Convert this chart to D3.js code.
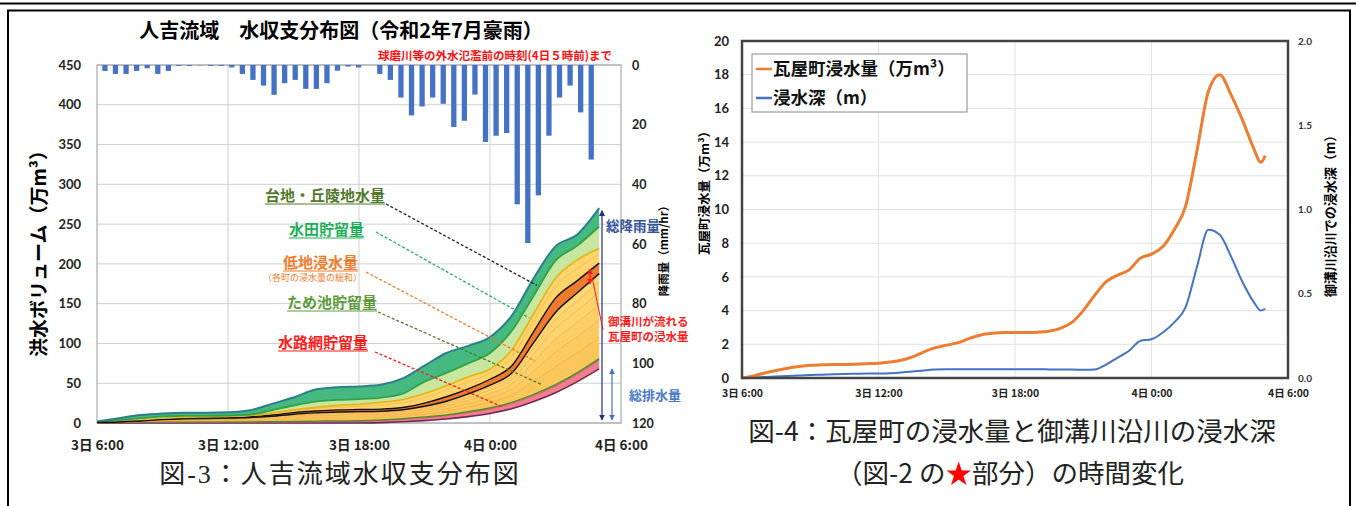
<!DOCTYPE html>
<html>
<head>
<meta charset="utf-8">
<script src="https://cdn.jsdelivr.net/npm/d3@7"></script>
<style>
body { margin: 0; background: #fff; }
text { font-family: "Noto Sans CJK JP", sans-serif; }
.num text, text.num { font-family: Lato, "Noto Sans", sans-serif; font-weight: 700; }
</style>
</head>
<body>
<div id="my_dataviz"></div>
<script>
// ---- data: left chart (hourly, hours after 3日 6:00) ----
var hours = [0,1,2,3,4,5,6,7,8,9,10,11,12,13,14,15,16,17,18,19,20,21,22,23];
var drainage = [0,0,0,0,0,0,0,0,0,0,0,0,0,0.5,1.5,3,5,8,12,18,27,38,52,68];
var channel  = [0.3,0.6,1,1,1,1,1,1,1.2,1.4,1.6,1.8,2,2.5,3,3.5,4,5,5.5,6.5,7.5,8.5,9.5,11];
var pond     = [0.2,0.3,0.4,0.5,0.5,0.5,0.5,0.5,0.6,0.7,0.8,0.9,1,1,1.1,1.2,1.3,1.4,1.5,1.6,1.7,1.8,1.9,2];
var town1 = [0,0.1,0.3,0.7,0.9,1,1.2,1.4,1.7,2.2,2.6,2.8,2.8,2.7,2.8,3.3,4.2,5.5,7.2,9.2,16,22.7,25,26.7];
var town2 = [0,0.1,0.2,0.55,0.75,0.85,0.9,1.1,1.3,1.8,2,2.2,2.3,2.2,2.2,2.7,3.4,4.4,5.7,7.3,13,18,20,21.4];
var town3 = [0,0.05,0.2,0.5,0.65,0.75,0.85,1,1.2,1.6,1.9,2,2,1.9,2,2.4,3.1,4,5.2,6.6,11.7,16.3,18,19.2];
var town4 = [0,0.05,0.15,0.4,0.55,0.65,0.7,0.8,1,1.35,1.5,1.7,1.7,1.6,1.7,2,2.5,3.3,4.3,5.5,9.7,13.6,15,16];
var town5 = [0,0,0.1,0.35,0.45,0.5,0.55,0.7,0.8,1.1,1.2,1.35,1.4,1.3,1.3,1.6,2,2.65,3.4,4.4,7.8,10.9,12,12.8];
var town6 = [0,0,0.1,0.25,0.4,0.45,0.45,0.5,0.7,0.9,1.1,1.1,1.1,1.1,1.05,1.3,1.8,2.3,2.85,3.7,6.6,9.2,10.3,10.7];
var kawaraya = [0,0.3,0.55,0.75,0.8,0.8,0.85,1,1.5,1.95,2.3,2.65,2.7,2.7,2.85,4,5.7,6.45,7.35,9.2,14,18,15.3,13.2];
var town7 = [0,0.1,0.3,0.5,0.6,0.6,0.7,0.9,1.5,2.1,2.7,3.3,3.9,5,6,7.2,8.4,9,7.8,12,13.2,15,15.6,11];
var town8 = [0,0.1,0.2,0.3,0.4,0.4,0.5,0.6,1,1.4,1.8,2.2,2.6,3.5,4,4.8,5.6,6,5.2,8,8.8,10,10.4,7.5];
var paddy  = [1,2,2.5,2.5,2,1.5,1.2,1,3.5,5.5,7.5,7,6.5,6,7.5,15,16,17,20,24,23,22,18,27.5];
var upland = [0.5,2.3,4,3.7,4,4,4.1,5.5,8,10,15,16,16,16,19,20,25,22,20,19,22,18,14,23];

// rainfall (mm/hr), half-hourly bars
var rain = [2,3,3,2,1.1,3,2,0.3,0.3,0.1,0.3,0.3,0.8,3,5,6.9,10,6.1,5,8,8,6.1,1.9,0.5,0.8,0,3,5,10.9,16.9,13.9,10.9,13,20.8,18.7,9.9,25.8,23.7,22.8,46.7,59.7,43.7,23.7,10.9,6.9,15.9,31.7];

var xTickHours = [0,6,12,18,24];
var xTickLabels = ["3日 6:00","3日 12:00","3日 18:00","4日 0:00","4日 6:00"];
var volTicks = [0,50,100,150,200,250,300,350,400,450];
var rainTicks = [0,20,40,60,80,100,120];

// ---- data: right chart (half-hourly) ----
var halfHours = [0,0.5,1,1.5,2,2.5,3,3.5,4,4.5,5,5.5,6,6.5,7,7.5,8,8.5,9,9.5,10,10.5,11,11.5,12,12.5,13,13.5,14,14.5,15,15.5,16,16.5,17,17.5,18,18.5,19,19.5,20,20.5,21,21.5,22,22.5,22.8,23];
var floodVolume = [0,0.12,0.3,0.45,0.58,0.68,0.75,0.78,0.8,0.8,0.82,0.85,0.88,0.95,1.05,1.25,1.55,1.8,1.95,2.1,2.35,2.55,2.65,2.7,2.7,2.7,2.72,2.78,2.95,3.3,4.0,4.9,5.7,6.1,6.4,7.1,7.35,7.8,8.8,10.2,13.5,17.0,18.0,16.8,15.3,13.6,12.8,13.2];
var floodDepth = [0,0.003,0.006,0.009,0.012,0.015,0.018,0.02,0.022,0.024,0.025,0.026,0.026,0.028,0.032,0.038,0.045,0.05,0.052,0.052,0.052,0.052,0.052,0.052,0.052,0.052,0.052,0.051,0.05,0.05,0.049,0.05,0.08,0.12,0.16,0.22,0.23,0.27,0.33,0.42,0.66,0.88,0.85,0.72,0.57,0.45,0.4,0.41];
var volTicksR = [0,2,4,6,8,10,12,14,16,18,20];
var depthTicks = [0,0.5,1,1.5,2];

var svg = d3.select("#my_dataviz")
    .append("svg")
    .attr("width", 1356)
    .attr("height", 506);

// page frame
svg.append("line").attr("x1", 0).attr("x2", 1356).attr("y1", 3.5).attr("y2", 3.5)
    .attr("stroke", "#000").attr("stroke-width", 2);
svg.append("rect").attr("x", 8).attr("y", 10.5).attr("width", 1342).attr("height", 520)
    .attr("fill", "none").attr("stroke", "#000").attr("stroke-width", 2);

// ================= LEFT CHART =================
var x = d3.scaleLinear().domain([0, 24]).range([97, 621]);
var y = d3.scaleLinear().domain([0, 450]).range([423, 65]);
var yRain = d3.scaleLinear().domain([0, 120]).range([65, 423]);

var left = svg.append("g");

// grid
left.append("g").selectAll("line").data(volTicks).enter().append("line")
    .attr("x1", x(0)).attr("x2", x(24))
    .attr("y1", function (d) { return y(d); }).attr("y2", function (d) { return y(d); })
    .attr("stroke", "#cfcfcf");
left.append("g").selectAll("line").data([6, 12, 18]).enter().append("line")
    .attr("x1", function (d) { return x(d); }).attr("x2", function (d) { return x(d); })
    .attr("y1", y(0)).attr("y2", y(450))
    .attr("stroke", "#cfcfcf");
left.append("rect").attr("x", x(0)).attr("y", y(450))
    .attr("width", x(24) - x(0)).attr("height", y(0) - y(450))
    .attr("fill", "none").attr("stroke", "#9a9a9a");

// rain bars, hung from the top
var band = d3.scaleBand().domain(d3.range(rain.length)).range([x(0), x(23)]).padding(0.5);
left.append("g").selectAll("rect").data(rain).enter().append("rect")
    .attr("x", function (d, i) { return band(i); })
    .attr("y", yRain(0))
    .attr("width", band.bandwidth())
    .attr("height", function (d) { return yRain(d) - yRain(0); })
    .attr("fill", "#4472c4");

// stacked water balance
var keys = ["drainage","channel","pond","town1","town2","town3","town4","town5","town6","kawaraya","town7","town8","paddy","upland"];
var series = {drainage: drainage, channel: channel, pond: pond, town1: town1, town2: town2, town3: town3,
    town4: town4, town5: town5, town6: town6, kawaraya: kawaraya, town7: town7, town8: town8, paddy: paddy, upland: upland};
var rows = hours.map(function (h, i) {
    var r = { h: h };
    keys.forEach(function (k) { r[k] = series[k][i]; });
    return r;
});
var stacked = d3.stack().keys(keys)(rows);

var fills = {drainage: "none", channel: "#f27d8b", pond: "#5aa845", town1: "#fcc75a", town2: "#fccb60", town3: "#fccf66",
    town4: "#fcd36c", town5: "#fcd571", town6: "#fdd876", kawaraya: "#ee7a2e", town7: "#fdd36a", town8: "#fdd66e",
    paddy: "#c7e6a0", upland: "#45b97f"};
var strokes = {drainage: "#6e2b57", channel: "#e8556c", pond: "#3f8f32", town1: "#f2a63a", town2: "#f2a63a", town3: "#f2a63a",
    town4: "#f2a63a", town5: "#f2a63a", town6: "#f2a63a", kawaraya: "#111", town7: "#f2b23c", town8: "#e9b51f",
    paddy: "#33a148", upland: "#2b7f8c"};
var widths = {drainage: 1.6, channel: 1, pond: 1.2, town1: 0.7, town2: 0.7, town3: 0.7, town4: 0.7, town5: 0.7, town6: 0.7,
    kawaraya: 1.4, town7: 0.7, town8: 1.8, paddy: 1.8, upland: 2};

var area = d3.area().curve(d3.curveMonotoneX)
    .x(function (d) { return x(d.data.h); })
    .y0(function (d) { return y(d[0]); })
    .y1(function (d) { return y(d[1]); });
var topLine = d3.line().curve(d3.curveMonotoneX)
    .x(function (d) { return x(d.data.h); })
    .y(function (d) { return y(d[1]); });
var botLine = d3.line().curve(d3.curveMonotoneX)
    .x(function (d) { return x(d.data.h); })
    .y(function (d) { return y(d[0]); });

left.append("g").selectAll("path").data(stacked).enter().append("path")
    .attr("d", area)
    .attr("fill", function (d) { return fills[d.key]; });
left.append("g").selectAll("path").data(stacked).enter().append("path")
    .attr("d", topLine)
    .attr("fill", "none")
    .attr("stroke", function (d) { return strokes[d.key]; })
    .attr("stroke-width", function (d) { return widths[d.key]; });
// outline under the Kawaraya band
left.append("path").datum(stacked[keys.indexOf("kawaraya")])
    .attr("d", botLine).attr("fill", "none").attr("stroke", "#111").attr("stroke-width", 1.4);

// axes
left.append("g").attr("class", "num")
    .attr("transform", "translate(" + x(0) + ",0)")
    .call(d3.axisLeft(y).tickValues(volTicks).tickSize(0).tickPadding(16))
    .call(function (g) { g.select(".domain").remove(); })
    .selectAll("text").style("font-size", "13px").attr("fill", "#222");
left.append("g").attr("class", "num")
    .attr("transform", "translate(" + x(24) + ",0)")
    .call(d3.axisRight(yRain).tickValues(rainTicks).tickSize(0).tickPadding(11))
    .call(function (g) { g.select(".domain").remove(); })
    .selectAll("text").style("font-size", "12.5px").attr("fill", "#222");
left.append("g").attr("class", "num")
    .attr("transform", "translate(0," + y(0) + ")")
    .call(d3.axisBottom(x).tickValues(xTickHours).tickSize(0).tickPadding(17)
        .tickFormat(function (d, i) { return xTickLabels[i]; }))
    .call(function (g) { g.select(".domain").remove(); })
    .selectAll("text").style("font-size", "13.5px").attr("fill", "#222")
    .style("font-family", "'Noto Sans CJK JP', sans-serif");

// titles
left.append("text").attr("x", 341).attr("y", 38).attr("text-anchor", "middle")
    .style("font-size", "20px").style("font-weight", 700).text("人吉流域　水収支分布図（令和2年7月豪雨）");
left.append("text").attr("x", 378).attr("y", 60)
    .style("font-size", "11.5px").style("font-weight", 700).attr("fill", "#ff1010")
    .text("球磨川等の外水氾濫前の時刻(4日５時前)まで");
left.append("text").attr("transform", "translate(46,249) rotate(-90)").attr("text-anchor", "middle")
    .style("font-size", "19px").style("font-weight", 700).text("洪水ボリューム（万m³）");
left.append("text").attr("transform", "translate(668,248) rotate(-90)").attr("text-anchor", "middle")
    .style("font-size", "11.5px").style("font-weight", 700).text("降雨量（mm/hr）");

// layer labels with dashed leaders (end points in data units)
var labels = [
    { text: "台地・丘陵地水量", x: 265, y: 201, color: "#4f7a2b", lead: "#222", from: [386, 204], to: [20.15, 173] },
    { text: "水田貯留量", x: 289, y: 235, color: "#1db058", lead: "#22b35a", from: [376, 232], to: [19.8, 132] },
    { text: "低地浸水量", x: 283, y: 268, color: "#f07b2a", lead: "#f07b2a", from: [366, 272], to: [20.05, 78] },
    { text: "ため池貯留量", x: 287, y: 308, color: "#5c9c3c", lead: "#4d7a2a", from: [378, 312], to: [20.4, 48] },
    { text: "水路網貯留量", x: 278, y: 348, color: "#ff1a1a", lead: "#ff1a1a", from: [375, 352], to: [18.6, 20] }
];
var lab = left.append("g").selectAll("g").data(labels).enter().append("g");
lab.append("line")
    .attr("x1", function (d) { return d.from[0]; }).attr("y1", function (d) { return d.from[1]; })
    .attr("x2", function (d) { return x(d.to[0]); }).attr("y2", function (d) { return y(d.to[1]); })
    .attr("stroke", function (d) { return d.lead; }).attr("stroke-width", 1.3).attr("stroke-dasharray", "3,2");
lab.append("text")
    .attr("x", function (d) { return d.x; }).attr("y", function (d) { return d.y; })
    .attr("fill", function (d) { return d.color; })
    .style("font-size", "15px").style("font-weight", 700)
    .text(function (d) { return d.text; });
lab.append("line")
    .attr("x1", function (d) { return d.x; }).attr("x2", function (d) { return d.x + d.text.length * 15; })
    .attr("y1", function (d) { return d.y + 3; }).attr("y2", function (d) { return d.y + 3; })
    .attr("stroke", function (d) { return d.color; }).attr("stroke-width", 1);
left.append("text").attr("x", 263).attr("y", 281).attr("fill", "#f07b2a")
    .style("font-size", "9px").text("（各町の浸水量の総和）");

// total rain / drainage arrows
var defs = svg.append("defs");
[["navy", "#1f2a8a"], ["blue", "#4472c4"], ["red", "#ff1a1a"]].forEach(function (m) {
    defs.append("marker").attr("id", "ah-" + m[0]).attr("viewBox", "0 0 10 10")
        .attr("refX", 9).attr("refY", 5).attr("markerWidth", 5).attr("markerHeight", 5)
        .attr("orient", "auto-start-reverse")
        .append("path").attr("d", "M0,0L10,5L0,10z").attr("fill", m[1]);
});
left.append("line").attr("x1", 602).attr("x2", 602).attr("y1", y(267)).attr("y2", y(0) - 3)
    .attr("stroke", "#1f2a8a").attr("stroke-width", 1.2)
    .attr("marker-start", "url(#ah-navy)").attr("marker-end", "url(#ah-navy)");
left.append("line").attr("x1", 612).attr("x2", 612).attr("y1", y(68)).attr("y2", y(0) - 3)
    .attr("stroke", "#4472c4").attr("stroke-width", 1.2)
    .attr("marker-start", "url(#ah-blue)").attr("marker-end", "url(#ah-blue)");
left.append("text").attr("x", 606).attr("y", 231).attr("fill", "#34539c")
    .style("font-size", "13.5px").style("font-weight", 700).text("総降雨量");
left.append("text").attr("x", 629).attr("y", 400).attr("fill", "#4a78c8")
    .style("font-size", "13px").style("font-weight", 700).text("総排水量");

// Kawaraya callout
left.append("line").attr("x1", 590).attr("x2", 590).attr("y1", 269).attr("y2", 284)
    .attr("stroke", "#ff1a1a").attr("stroke-width", 1.2)
    .attr("marker-start", "url(#ah-red)").attr("marker-end", "url(#ah-red)");
left.append("line").attr("x1", 592).attr("y1", 277).attr("x2", 603).attr("y2", 330)
    .attr("stroke", "#ff1a1a").attr("stroke-width", 1);
left.append("text").attr("x", 608).attr("y", 326).attr("fill", "#ff1a1a")
    .style("font-size", "11.5px").style("font-weight", 700).text("御溝川が流れる");
left.append("text").attr("x", 608).attr("y", 341).attr("fill", "#ff1a1a")
    .style("font-size", "11.5px").style("font-weight", 700).text("瓦屋町の浸水量");

// caption
svg.append("text").attr("x", 340).attr("y", 483).attr("text-anchor", "middle")
    .style("font-family", "'Liberation Serif', 'Noto Sans CJK JP', serif")
    .style("font-size", "26px").style("letter-spacing", "2px").attr("fill", "#222")
    .text("図-3：人吉流域水収支分布図");

// ================= RIGHT CHART =================
var x2 = d3.scaleLinear().domain([0, 24]).range([742, 1288]);
var yVol = d3.scaleLinear().domain([0, 20]).range([378, 41]);
var yDep = d3.scaleLinear().domain([0, 2]).range([378, 41]);

var right = svg.append("g");
right.append("g").selectAll("line").data(volTicksR).enter().append("line")
    .attr("x1", x2(0)).attr("x2", x2(24))
    .attr("y1", function (d) { return yVol(d); }).attr("y2", function (d) { return yVol(d); })
    .attr("stroke", "#e2e2e2");
right.append("g").selectAll("line").data([6, 12, 18]).enter().append("line")
    .attr("x1", function (d) { return x2(d); }).attr("x2", function (d) { return x2(d); })
    .attr("y1", yVol(0)).attr("y2", yVol(20))
    .attr("stroke", "#e2e2e2");

var lineVol = d3.line().curve(d3.curveMonotoneX)
    .x(function (d, i) { return x2(halfHours[i]); })
    .y(function (d) { return yVol(d); });
var lineDep = d3.line().curve(d3.curveMonotoneX)
    .x(function (d, i) { return x2(halfHours[i]); })
    .y(function (d) { return yDep(d); });
right.append("path").datum(floodDepth).attr("d", lineDep)
    .attr("fill", "none").attr("stroke", "#4472c4").attr("stroke-width", 2);
right.append("path").datum(floodVolume).attr("d", lineVol)
    .attr("fill", "none").attr("stroke", "#ed7d31").attr("stroke-width", 3);

right.append("rect").attr("x", x2(0)).attr("y", yVol(20))
    .attr("width", x2(24) - x2(0)).attr("height", yVol(0) - yVol(20))
    .attr("fill", "none").attr("stroke", "#444").attr("stroke-width", 2.5);

right.append("g").attr("class", "num")
    .attr("transform", "translate(" + x2(0) + ",0)")
    .call(d3.axisLeft(yVol).tickValues(volTicksR).tickSize(0).tickPadding(13))
    .call(function (g) { g.select(".domain").remove(); })
    .selectAll("text").style("font-size", "13px").attr("fill", "#222");
right.append("g").attr("class", "num")
    .attr("transform", "translate(" + x2(24) + ",0)")
    .call(d3.axisRight(yDep).tickValues(depthTicks).tickSize(0).tickPadding(10)
        .tickFormat(d3.format(".1f")))
    .call(function (g) { g.select(".domain").remove(); })
    .selectAll("text").style("font-size", "10px").attr("fill", "#333");
right.append("g").attr("class", "num")
    .attr("transform", "translate(0," + yVol(0) + ")")
    .call(d3.axisBottom(x2).tickValues(xTickHours).tickSize(0).tickPadding(12)
        .tickFormat(function (d, i) { return xTickLabels[i]; }))
    .call(function (g) { g.select(".domain").remove(); })
    .selectAll("text").style("font-size", "10.5px").attr("fill", "#222")
    .style("font-family", "'Noto Sans CJK JP', sans-serif");

right.append("text").attr("transform", "translate(709,190) rotate(-90)").attr("text-anchor", "middle")
    .style("font-size", "12.5px").style("font-weight", 700).text("瓦屋町浸水量（万m³）");
right.append("text").attr("transform", "translate(1335,213) rotate(-90)").attr("text-anchor", "middle")
    .style("font-size", "13px").style("font-weight", 700).text("御溝川沿川での浸水深（m）");

// legend
var legend = right.append("g");
legend.append("rect").attr("x", 752).attr("y", 54).attr("width", 215).attr("height", 58)
    .attr("fill", "#fff").attr("stroke", "#888");
[["瓦屋町浸水量（万m³）", "#ed7d31", 69], ["浸水深（m）", "#4472c4", 98]].forEach(function (e) {
    legend.append("line").attr("x1", 756).attr("x2", 772).attr("y1", e[2]).attr("y2", e[2])
        .attr("stroke", e[1]).attr("stroke-width", 2.5);
    legend.append("text").attr("x", 773).attr("y", e[2] + 6)
        .style("font-size", "17.5px").style("font-weight", 700).attr("fill", "#111").text(e[0]);
});

// caption
var cap = svg.append("g").style("font-family", "'Liberation Serif', 'Noto Sans CJK JP', serif")
    .style("font-size", "26.5px").attr("fill", "#222");
cap.append("text").attr("x", 1012).attr("y", 441).attr("text-anchor", "middle")
    .text("図-4：瓦屋町の浸水量と御溝川沿川の浸水深");
var c2 = cap.append("text").attr("x", 1010).attr("y", 483).attr("text-anchor", "middle");
c2.append("tspan").text("（図-2 の");
c2.append("tspan").attr("fill", "#ff0000").text("★");
c2.append("tspan").text("部分）の時間変化");
</script>
</body>
</html>
